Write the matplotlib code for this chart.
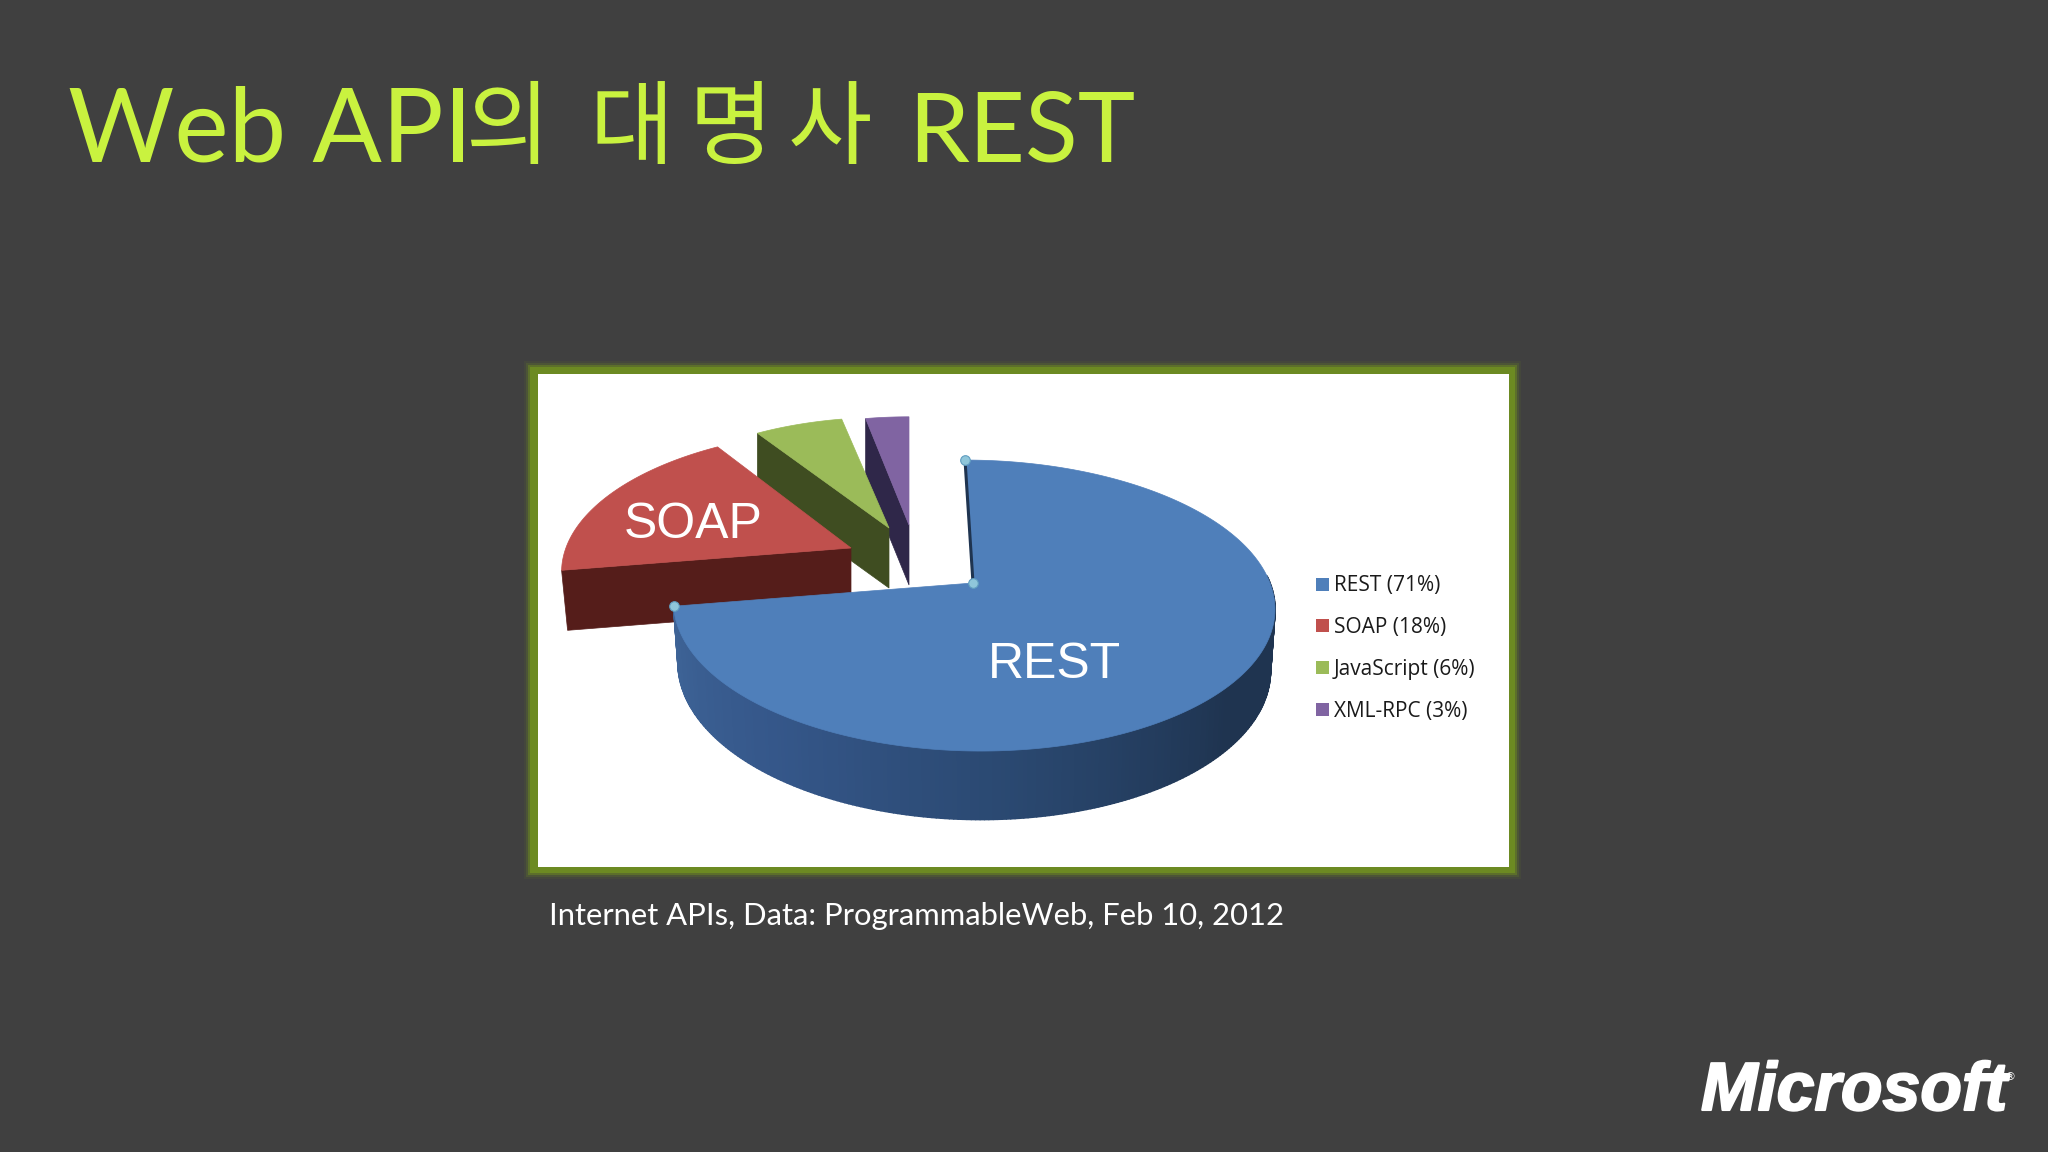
import numpy as np
import matplotlib
matplotlib.use("Agg")
import matplotlib.pyplot as plt
import matplotlib.patheffects as pe
from matplotlib.collections import PolyCollection
from matplotlib.colors import LinearSegmentedColormap
from matplotlib.patches import Polygon, Rectangle

title_latin = ["Web API", "REST"]
title_hangul = ["의", "대", "명", "사"]
caption = "Internet APIs, Data: ProgrammableWeb, Feb 10, 2012"
categories = ["REST", "SOAP", "JavaScript", "XML-RPC"]
shares = [71, 18, 6, 3]
colors = ["#4f7fba", "#c0504d", "#9bbb59", "#8064a2"]
side_colors = ["#1f3450", "#551d1a", "#3f4d21", "#2f2749"]

BG = "#404040"
TITLE_COLOR = "#c9f23f"
# pie projection, in pixels
RX, RY, PERSP = 297.0, 142.0, 0.155
DEPTH = 60.0


def ring(theta, apex, scale=1.0, lean=0.0, drop=0.0):
    # perspective view of a point on the pie rim
    den = 1 + PERSP * np.sin(theta)
    x = apex[0] + scale * RX * np.cos(theta) / den + lean * np.sin(theta)
    y = apex[1] - scale * RY * np.sin(theta) / den + drop / den
    return np.column_stack([x, y])


def main():
    fig = plt.figure(figsize=(20.48, 11.52), dpi=100, facecolor=BG)
    ax = fig.add_axes([0, 0, 1, 1])
    ax.set_xlim(0, 2048)
    ax.set_ylim(1152, 0)
    ax.axis("off")

    # frame with a soft green glow
    for grow, alpha in [(6, 0.10), (4, 0.22), (2, 0.5)]:
        ax.add_patch(Rectangle((530 - grow, 367 - grow), 985 + 2 * grow, 506 + 2 * grow,
                               fc="#6c8a22", ec="none", alpha=alpha))
    ax.add_patch(Rectangle((530, 367), 985, 506, fc="#6c8a22", ec="none"))
    ax.add_patch(Rectangle((538, 374), 971, 493, fc="white", ec="none"))

    # slice angles run clockwise from the top
    sweep = np.radians(np.array(shares) / sum(shares) * 360)
    starts = np.pi / 2 - np.concatenate([[0], np.cumsum(sweep)[:-1]])
    ends = starts - sweep

    # small slices, back to front
    apexes = {1: (851, 548), 2: (889, 528), 3: (909, 525)}
    scales = {1: 0.96, 2: 0.90, 3: 0.88}
    leans = {1: 5, 2: -3, 3: 0}
    for i in [3, 2, 1]:
        arc = ring(np.linspace(starts[i], ends[i], 60), apexes[i], scales[i], leans[i])
        apex = np.array(apexes[i], dtype=float)
        # the cut face that looks to the viewer
        rim = arc[0]
        face = [rim, apex, apex + [0, 60], rim + [6 if i == 1 else 0, 60]]
        ax.add_patch(Polygon(face, fc=side_colors[i], ec=side_colors[i], lw=0.5))
        ax.add_patch(Polygon(np.vstack([apex, arc]), fc=colors[i], ec=colors[i], lw=0.5))

    # REST slice with its shaded wall
    rest_apex = (973, 583)
    wall = np.linspace(ends[0], 0.05, 240)
    top_edge = ring(wall, rest_apex, lean=-8)
    low_edge = ring(wall, rest_apex, scale=0.985, lean=-8, drop=DEPTH)
    quads = [[top_edge[j], top_edge[j + 1], low_edge[j + 1], low_edge[j]] for j in range(len(wall) - 1)]
    shade = LinearSegmentedColormap.from_list("wall", ["#3f6598", "#35578a", "#2a4870", "#1f3450", "#1f3450"])
    walls = PolyCollection(quads, array=np.linspace(0, 1, len(quads)), cmap=shade, edgecolors="face", linewidths=1.2)
    ax.add_collection(walls)

    arc = ring(np.linspace(starts[0], ends[0], 300), rest_apex, lean=-8)
    ax.add_patch(Polygon(np.vstack([rest_apex, arc]), fc=colors[0], ec=colors[0], lw=0.5))
    ax.plot([arc[0, 0], rest_apex[0]], [arc[0, 1], rest_apex[1]], color="#1f3450", lw=2.2, solid_capstyle="butt")
    ax.scatter([arc[0, 0], rest_apex[0], arc[-1, 0]], [arc[0, 1], rest_apex[1], arc[-1, 1]],
               s=48, color="#8fc6da", edgecolors="#5f9dc0", linewidths=0.8, zorder=5)

    ax.text(1054, 665, "REST", color="white", fontsize=36, family="Liberation Sans", ha="center", va="center")
    ax.text(693, 525, "SOAP", color="white", fontsize=36, family="Liberation Sans", ha="center", va="center")

    # legend
    for i in range(len(categories)):
        y = 584 + i * 41.8
        ax.add_patch(Rectangle((1316, y - 6.5), 12.5, 13, fc=colors[i], ec="none"))
        ax.text(1334, y + 2, f"{categories[i]} ({shares[i]}%)", color="#1a1a1a", fontsize=15,
                family="Open Sans", ha="left", va="center")

    # title goes piece by piece since the glyphs keep their own spacing
    ax.text(68, 162, title_latin[0], color=TITLE_COLOR, fontsize=74, ha="left", va="baseline", family="Lato")
    ax.text(908, 162, title_latin[1], color=TITLE_COLOR, fontsize=70, ha="left", va="baseline", family="Lato")
    for glyph, x in zip(title_hangul, [508, 632, 731, 830]):
        ax.text(x, 131, glyph, color=TITLE_COLOR, fontsize=66, ha="center", va="center",
                family="Noto Sans CJK KR", weight="light")

    ax.text(549, 925, caption, color="white", fontsize=22.3, ha="left", va="baseline", family="Lato")

    ax.text(1701, 1110, "Microsoft", color="white", fontsize=49, family="Liberation Sans",
            weight="bold", style="italic", ha="left", va="baseline",
            path_effects=[pe.withStroke(linewidth=1.5, foreground="white")])
    ax.text(2004, 1077, "®", color="white", fontsize=8, family="DejaVu Sans", ha="left", va="center")

    fig.savefig("out.png", dpi=100, facecolor=BG)


if __name__ == '__main__':
    main()
